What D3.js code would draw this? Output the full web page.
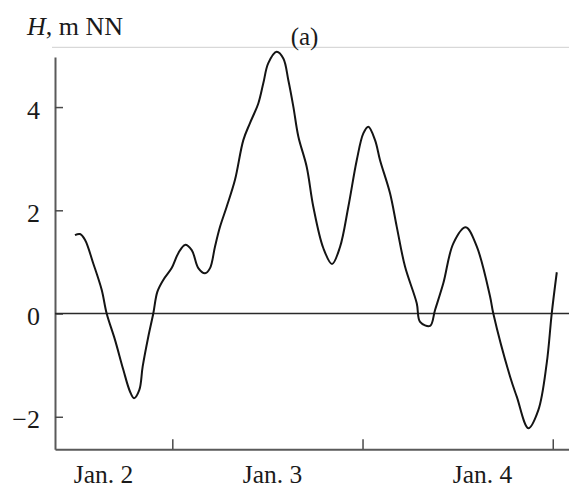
<!DOCTYPE html>
<html>
<head>
<meta charset="utf-8">
<script src="https://cdn.jsdelivr.net/npm/d3@7/dist/d3.min.js"></script>
<style>
  html, body { margin: 0; padding: 0; background: #fff; }
  svg { display: block; }
  text { font-family: "Liberation Serif", "Times New Roman", serif; fill: #1a1a1a; }
</style>
</head>
<body>
<svg id="chart" width="569" height="490"></svg>
<script>
// Water level H (m NN), time in hours counted from Jan. 2, 00:00
const hours = [11.72, 12.35, 12.98, 14.03, 15.09, 15.72, 16.77, 17.82, 18.66, 19.17,
  19.84, 20.26, 20.97, 21.60, 22.11, 22.86, 23.92, 24.76, 25.60, 26.45,
  27.28, 28.13, 28.76, 29.39, 30.02, 30.86, 31.91, 32.96, 33.80, 34.85,
  35.48, 36.11, 37.17, 38.01, 38.64, 39.27, 39.90, 40.96, 41.79, 43.05,
  44.15, 45.16, 46.21, 47.27, 48.10, 48.73, 49.58, 50.21, 51.47, 52.32,
  53.36, 54.84, 55.26, 56.52, 57.15, 58.20, 59.46, 61.02, 62.41, 64.09,
  64.50, 66.61, 67.46, 68.92, 70.18, 71.24, 71.87, 72.51];
const level = [1.52, 1.54, 1.43, 0.97, 0.46, 0.00, -0.51, -1.09, -1.51, -1.64,
  -1.48, -1.03, -0.45, 0.00, 0.42, 0.65, 0.88, 1.17, 1.33, 1.23,
  0.88, 0.78, 0.88, 1.30, 1.68, 2.07, 2.59, 3.36, 3.69, 4.07,
  4.46, 4.85, 5.07, 4.94, 4.52, 4.01, 3.43, 2.84, 2.07, 1.27,
  0.96, 1.29, 2.07, 2.97, 3.49, 3.62, 3.36, 2.97, 2.33, 1.68,
  0.91, 0.20, -0.16, -0.24, 0.07, 0.59, 1.36, 1.67, 1.30, 0.33,
  0.00, -1.22, -1.61, -2.22, -1.87, -0.96, 0.00, 0.80];

// Day boundaries (tick marks) and day labels
const dayTicks = [24, 48, 72];
const dayLabels = ["Jan. 2", "Jan. 3", "Jan. 4"];
const dayLabelHours = [15.26, 36.58, 63.08];
const yTicks = [-2, 0, 2, 4];

const svg = d3.select("#chart");

const x = d3.scaleLinear().domain([9.2, 74.05]).range([55, 569]);
const y = d3.scaleLinear().domain([-2.63, 4.97]).range([449.3, 57]);

// thin rule along the top of the panel
svg.append("line")
  .attr("x1", 52).attr("x2", 569)
  .attr("y1", 47.3).attr("y2", 47.3)
  .attr("stroke", "#cfcfcf").attr("stroke-width", 1);

// y axis, ticks pointing into the plot
const yAxis = svg.append("g")
  .attr("transform", `translate(${x.range()[0]},0)`)
  .call(d3.axisLeft(y).tickValues(yTicks)
    .tickFormat(d => d < 0 ? "\u2212" + Math.abs(d) : d)
    .tickSizeInner(-8).tickSizeOuter(0).tickPadding(15));
yAxis.select(".domain").attr("stroke", "#5a5a5a").attr("stroke-width", 2);
yAxis.selectAll(".tick line").attr("stroke", "#4a4a4a").attr("stroke-width", 1.5);
yAxis.selectAll(".tick text")
  .attr("font-size", 26).attr("dy", "0.43em")
  .style("font-family", "'Liberation Serif', serif").attr("fill", "#1a1a1a");

// x axis with day-boundary ticks pointing up
const xAxis = svg.append("g")
  .attr("transform", `translate(0,${y.range()[0]})`)
  .call(d3.axisBottom(x).tickValues(dayTicks).tickFormat("")
    .tickSizeInner(-10).tickSizeOuter(0));
xAxis.select(".domain").attr("stroke", "#5a5a5a").attr("stroke-width", 2);
xAxis.selectAll(".tick line").attr("stroke", "#4a4a4a").attr("stroke-width", 1.5);

// day labels
const xLab = svg.append("g")
  .attr("transform", `translate(0,${y.range()[0]})`)
  .call(d3.axisBottom(x).tickValues(dayLabelHours)
    .tickFormat((d, i) => dayLabels[i]).tickSize(0).tickPadding(16));
xLab.select(".domain").remove();
xLab.selectAll(".tick text")
  .attr("font-size", 25.5)
  .style("font-family", "'Liberation Serif', serif").attr("fill", "#1a1a1a");

// zero level
svg.append("line")
  .attr("x1", x.range()[0]).attr("x2", x.range()[1])
  .attr("y1", y(0)).attr("y2", y(0))
  .attr("stroke", "#2a2a2a").attr("stroke-width", 1.6);

// water level curve
const pts = hours.map((h, i) => [h, level[i]]);
svg.append("path")
  .datum(pts)
  .attr("fill", "none")
  .attr("stroke", "#141414")
  .attr("stroke-width", 2)
  .attr("stroke-linejoin", "round")
  .attr("d", d3.line().x(d => x(d[0])).y(d => y(d[1])).curve(d3.curveCatmullRom.alpha(0.5)));

// axis title
const title = svg.append("text")
  .attr("x", 27).attr("y", 35)
  .attr("font-size", 26);
title.append("tspan").attr("font-style", "italic").text("H");
title.append("tspan").text(", m NN");

// panel tag
svg.append("text")
  .attr("x", 304.5).attr("y", 45)
  .attr("text-anchor", "middle")
  .attr("font-size", 25)
  .text("(a)");
</script>
</body>
</html>
